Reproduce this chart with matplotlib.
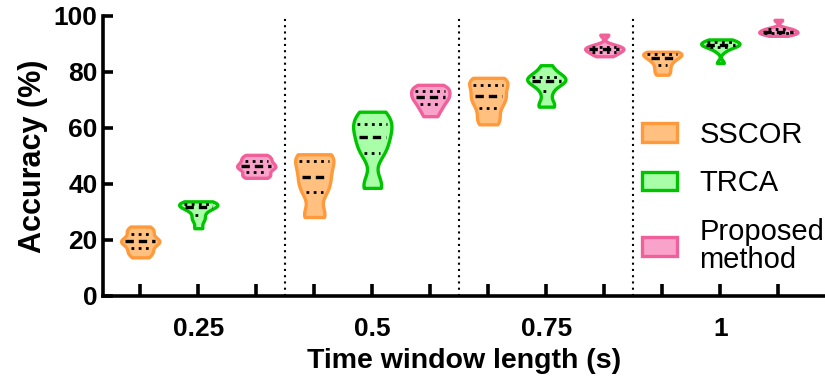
"""
Violin plot: accuracy vs time window length for three methods.
"""

import matplotlib
matplotlib.use("Agg")
import matplotlib.pyplot as plt
import numpy as np
from matplotlib import cbook, mlab
from matplotlib.patches import Patch

plt.rcParams["font.family"] = ["Liberation Sans", "DejaVu Sans"]

windows = ["0.25", "0.5", "0.75", "1"]
methods = ["SSCOR", "TRCA", "Proposed\nmethod"]

# per-subject accuracies (%)
sscor = [
    [13.8, 15.5, 16.5, 18.5, 19.2, 19.8, 20.5, 22.5, 23.5, 24.8],
    [28.2, 29.5, 36.5, 38.5, 41.5, 43.5, 46.0, 49.0, 50.0, 50.6],
    [61.3, 63.5, 66.5, 69.0, 70.5, 72.0, 74.0, 76.0, 77.0, 77.9],
    [79.0, 80.5, 82.0, 83.5, 84.5, 85.3, 86.0, 86.5, 87.0, 87.2],
]
trca = [
    [24.2, 27.0, 28.5, 30.5, 31.5, 32.0, 32.5, 33.0, 33.3, 33.8],
    [38.6, 40.3, 50.5, 52.5, 55.5, 58.0, 60.0, 62.0, 64.0, 65.8],
    [67.6, 68.5, 72.5, 75.5, 76.5, 77.0, 77.5, 78.5, 79.5, 82.4],
    [83.2, 87.5, 88.8, 89.3, 89.6, 89.8, 90.3, 90.8, 91.2, 91.6],
]
proposed = [
    [42.2, 43.0, 44.0, 45.5, 46.0, 46.5, 47.5, 48.5, 49.5, 50.4],
    [64.2, 66.5, 68.0, 69.5, 70.5, 71.5, 72.5, 73.5, 74.5, 75.4],
    [85.6, 86.3, 87.0, 87.5, 88.0, 88.2, 88.7, 89.2, 89.6, 93.3],
    [92.9, 93.4, 93.8, 94.0, 94.2, 94.5, 95.0, 95.3, 95.6, 98.6],
]

face_colors = ["#FFC080", "#A8FFA8", "#F9A3CB"]
edge_colors = ["#FF9A3C", "#00C400", "#F0609A"]

width = 0.66
bw = 0.4
series = [sscor, trca, proposed]


def kde(x, coords):
    return mlab.GaussianKDE(x, bw).evaluate(coords)


fig = plt.figure(figsize=(8.25, 3.79), dpi=100)
ax = fig.add_axes([0.125, 0.219, 0.874, 0.739])

for g in range(len(windows)):
    for m, data in enumerate(series):
        pos = g * 3 + m
        samples = np.asarray(data[g])
        vstats = cbook.violin_stats(samples, kde)
        parts = ax.violin(vstats, positions=[pos], widths=width, showmeans=False,
                          showextrema=False, showmedians=False)
        for body in parts["bodies"]:
            body.set_facecolor(face_colors[m])
            body.set_edgecolor(edge_colors[m])
            body.set_linewidth(2.4)
            body.set_alpha(1)
            body.set_zorder(3)
        # quartile / median lines spanning the violin
        coords = vstats[0]["coords"]
        vals = vstats[0]["vals"]
        half = vals / vals.max() * width / 2
        q1, med, q3 = np.percentile(samples, [25, 50, 75])
        for q, ls, lw in [(q1, (0, (1, 1.6)), 2.0), (q3, (0, (1, 1.6)), 2.0), (med, (0, (2.5, 1.5)), 2.4)]:
            hw = np.interp(q, coords, half) - 0.07
            if hw > 0:
                ax.plot([pos - hw, pos + hw], [q, q], color="black", linestyle=ls,
                        linewidth=lw, zorder=4, dash_capstyle="butt")

for sep in [2.5, 5.5, 8.5]:
    ax.plot([sep, sep], [0, 100], color="black", linestyle=(0, (1, 2)), linewidth=1.5, zorder=1)

ax.set_xlim(-0.64, 11.79)
ax.set_ylim(0, 100)
ax.set_yticks([0, 20, 40, 60, 80, 100])
ax.set_xticks(range(12))
xlabels = []
for g in range(len(windows)):
    xlabels += ["", windows[g], ""]
ax.set_xticklabels(xlabels)

for side in ["top", "right"]:
    ax.spines[side].set_visible(False)
for side in ["left", "bottom"]:
    ax.spines[side].set_linewidth(2.6)
ax.tick_params(axis="both", direction="in", width=2.6, length=7, labelsize=19)
ax.tick_params(axis="y", pad=4)
ax.tick_params(axis="x", length=9, pad=15)
for lbl in ax.get_xticklabels() + ax.get_yticklabels():
    lbl.set_fontweight("bold")

ax.set_ylabel("Accuracy (%)", fontsize=22, fontweight="bold", labelpad=4)
ax.set_xlabel("Time window length (s)", fontsize=20.5, fontweight="bold", labelpad=5)

handles = [Patch(facecolor=face_colors[i], edgecolor=edge_colors[i], linewidth=2.4) for i in range(3)]
leg = ax.legend(handles, methods, loc="upper left", bbox_to_anchor=(0.748, 0.625), frameon=False,
                fontsize=21, handlelength=1.2, handleheight=0.6, handletextpad=0.75,
                labelspacing=0.7, borderpad=0, borderaxespad=0)
for t in leg.get_texts():
    t.set_linespacing(1.0)

plt.savefig("out.png", dpi=100)
plt.close()
